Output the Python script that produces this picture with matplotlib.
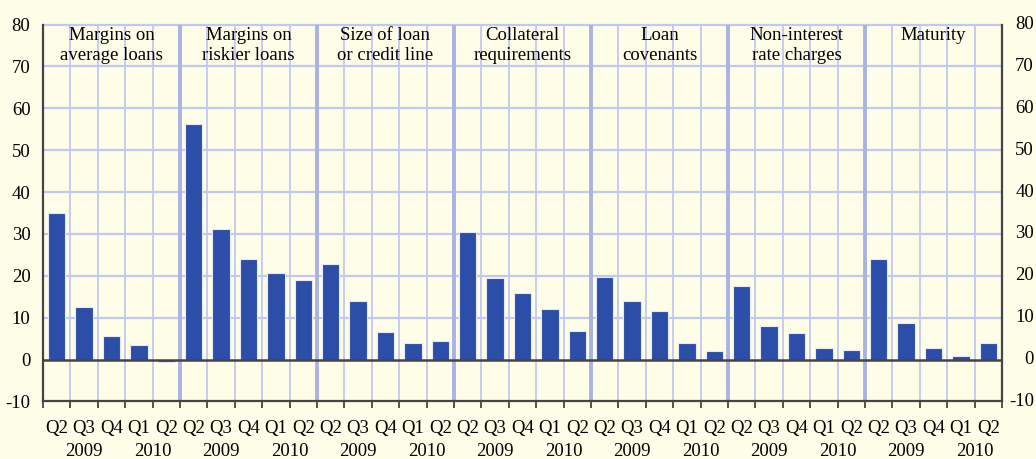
import matplotlib
matplotlib.use("Agg")
import matplotlib.pyplot as plt
import matplotlib.transforms as mtransforms
import numpy as np

plt.rcParams['font.family'] = ['Liberation Serif', 'DejaVu Serif']
plt.rcParams['axes.unicode_minus'] = False

groups = ["Margins on\naverage loans", "Margins on\nriskier loans", "Size of loan\nor credit line",
          "Collateral\nrequirements", "Loan\ncovenants", "Non-interest\nrate charges", "Maturity"]
quarters = ["Q2", "Q3", "Q4", "Q1", "Q2"]
margins_avg = [35, 12.6, 5.6, 3.5, -0.7]
margins_risk = [56.2, 31.1, 24.0, 20.6, 19.0]
size_loan = [22.8, 13.9, 6.6, 3.9, 4.4]
collateral = [30.5, 19.4, 15.9, 12.1, 6.7]
covenants = [19.8, 14.0, 11.7, 3.9, 2.0]
non_interest = [17.5, 8.1, 6.4, 2.8, 2.3]
maturity = [24.0, 8.7, 2.7, 0.8, 3.9]
series = [margins_avg, margins_risk, size_loan, collateral, covenants, non_interest, maturity]
yticks = list(range(-10, 81, 10))

bg = '#fefde8'
bar_c = '#2c4ea8'
grid_c = '#c3c8ee'
grp_c = '#aab2e2'
dark = '#444444'

fig = plt.figure(figsize=(10.36, 4.59), dpi=100, facecolor=bg)
ax = fig.add_axes([43/1036, 1-401.4/459, (1002-43)/1036, (401.4-24.5)/459])
ax.set_facecolor(bg)

values = np.concatenate([np.array(s, dtype=float) for s in series])
n = len(values)
x = np.arange(n) + 0.5
ax.bar(x, values, width=0.64, color=bar_c, edgecolor='#e6e9f8', linewidth=0.8, zorder=3)

ax.set_xlim(0, n)
ax.set_ylim(-10, 80)

# grid
for yv in yticks:
    if yv in (-10, 0):
        continue
    ax.axhline(yv, color=grid_c, lw=1.6, zorder=1, clip_on=False)
for k in range(1, n):
    if k % 5 == 0:
        ax.axvline(k, color=grp_c, lw=2.8, zorder=1)
    else:
        ax.axvline(k, color=grid_c, lw=1.3, zorder=1)
ax.axhline(0, color=dark, lw=1.8, zorder=4)

ax.spines['top'].set_visible(False)
for s in ['left', 'right', 'bottom']:
    ax.spines[s].set_color(dark)
    ax.spines[s].set_linewidth(1.6)

ax.set_yticks(yticks)
ax.tick_params(axis='y', length=0, labelsize=13.5, pad=9, left=False, right=False,
               labelleft=True, labelright=False, colors='black')

# right-hand labels, right-aligned at the image edge
rtrans = mtransforms.blended_transform_factory(fig.transFigure, ax.transData)
for yv in yticks:
    ax.text(1034/1036, yv, str(yv), transform=rtrans, ha='right', va='center', fontsize=13.5)

ax.set_xticks(np.arange(0, n + 1))
ax.set_xticklabels([])
ax.tick_params(axis='x', length=5, width=1.3, color=dark, direction='out')

trans = mtransforms.blended_transform_factory(ax.transData, ax.transAxes)
for i in range(n):
    ax.text(i + 0.5, -0.084, quarters[i % 5], transform=trans, ha='center', va='baseline', fontsize=13.5)
for g, name in enumerate(groups):
    base = g * 5
    ax.text(base + 1.5, -0.146, "2009", transform=trans, ha='center', va='baseline', fontsize=13.5)
    ax.text(base + 4.0, -0.146, "2010", transform=trans, ha='center', va='baseline', fontsize=13.5)
    ax.text(base + 2.5, 79.4, name, ha='center', va='top', fontsize=13.5, linespacing=1.2, zorder=5)

fig.savefig('out.png', dpi=100, facecolor=bg)
